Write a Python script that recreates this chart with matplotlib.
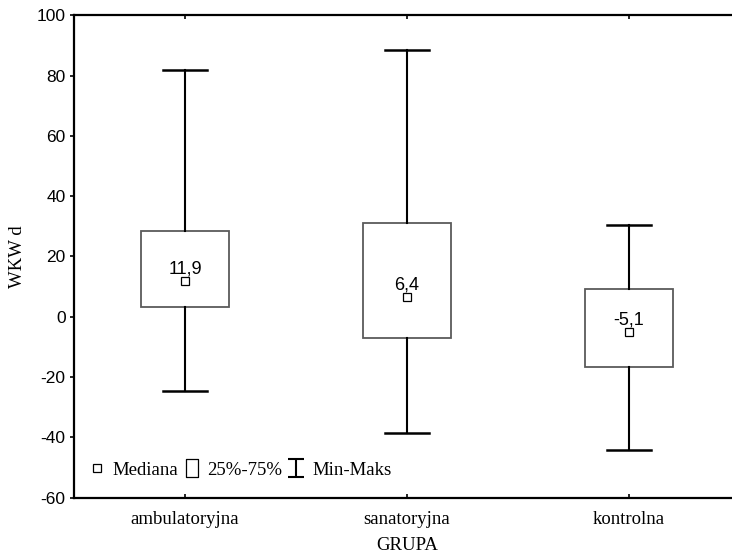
import matplotlib
matplotlib.use("Agg")
import matplotlib.pyplot as plt
from matplotlib.lines import Line2D
from matplotlib.path import Path

# Summary statistics per group
groups = ["ambulatoryjna", "sanatoryjna", "kontrolna"]
medians = [11.9, 6.4, -5.1]
q1 = [3.1, -7.1, -16.6]
q3 = [28.4, 31.1, 9.2]
mins = [-24.8, -38.6, -44.1]
maxs = [81.7, 88.5, 30.4]
median_labels = ["11,9", "6,4", "-5,1"]
yticks = [-60, -40, -20, 0, 20, 40, 60, 80, 100]

sans = "Liberation Sans"
serif = "Liberation Serif"

fig = plt.figure(figsize=(7.32, 5.56), dpi=100)
ax = fig.add_axes([74 / 732, 1 - 497.5 / 556, 666 / 732, 482.2 / 556])

stats = [
    dict(med=m, q1=a, q3=b, whislo=lo, whishi=hi, fliers=[], label=g)
    for g, m, a, b, lo, hi in zip(groups, medians, q1, q3, mins, maxs)
]
positions = list(range(1, len(groups) + 1))
ax.bxp(
    stats,
    positions=positions,
    widths=0.4,
    capwidths=0.2,
    patch_artist=True,
    showfliers=False,
    boxprops=dict(facecolor="white", edgecolor="#5a5a5a", linewidth=1.3),
    whiskerprops=dict(color="black", linewidth=1.5),
    capprops=dict(color="black", linewidth=1.8),
    medianprops=dict(linestyle="none"),
)

# Median markers with value labels
ax.plot(positions, medians, linestyle="none", marker="s", markersize=5.5,
        markerfacecolor="white", markeredgecolor="black", markeredgewidth=0.9,
        zorder=5)
for x, m, lab in zip(positions, medians, median_labels):
    ax.annotate(lab, (x, m), xytext=(0, 5.5), textcoords="offset points",
                ha="center", va="baseline", fontsize=13, family=sans,
                zorder=6)

ax.set_xlim(0.5, 3.5)
ax.set_ylim(-60, 100)
ax.set_yticks(yticks)
ax.set_yticklabels([str(v) for v in yticks], family=sans, fontsize=12.5)
ax.set_xticks(positions)
ax.set_xticklabels(groups, family=serif, fontsize=13.5)
ax.tick_params(axis="y", direction="out", length=3, width=1.2, pad=3)
ax.tick_params(axis="x", direction="in", length=3, width=1.2, pad=10,
               top=True)
for s in ax.spines.values():
    s.set_linewidth(1.6)

ax.set_xlabel("GRUPA", family=serif, fontsize=13.5, labelpad=6)
ax.set_ylabel("WKW d", family=serif, fontsize=13.5, labelpad=8)

# Legend with custom glyphs
rect = Path([(-0.36, -0.5), (0.36, -0.5), (0.36, 0.5), (-0.36, 0.5), (-0.36, -0.5)],
            [Path.MOVETO, Path.LINETO, Path.LINETO, Path.LINETO, Path.CLOSEPOLY])
ibeam = Path([(-0.45, 0.5), (0.45, 0.5), (0, 0.5), (0, -0.5), (-0.45, -0.5), (0.45, -0.5)],
             [Path.MOVETO, Path.LINETO, Path.MOVETO, Path.LINETO, Path.MOVETO, Path.LINETO])
handles = [
    Line2D([], [], linestyle="none", marker="s", markersize=5.5,
           markerfacecolor="white", markeredgecolor="black", markeredgewidth=0.9),
    Line2D([], [], linestyle="none", marker=rect, markersize=12.5,
           markerfacecolor="white", markeredgecolor="black", markeredgewidth=0.9),
    Line2D([], [], linestyle="none", marker=ibeam, markersize=12.5,
           markerfacecolor="none", markeredgecolor="black", markeredgewidth=1.5),
]
labels = ["Mediana", "25%-75%", "Min-Maks"]
ax.legend(handles, labels, ncol=3, loc="center left",
          bbox_to_anchor=(0.0, 0.057), frameon=False,
          handlelength=1.0, handletextpad=0.35, columnspacing=0.22,
          borderpad=0.2, prop=dict(family=serif, size=13.5))

fig.savefig("out.png", dpi=100)
